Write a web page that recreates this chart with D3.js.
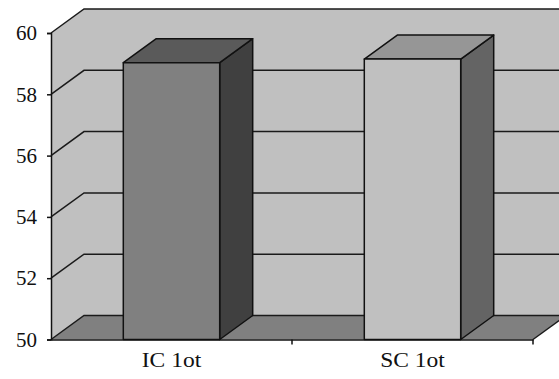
<!DOCTYPE html>
<html><head><meta charset="utf-8">
<script src="https://cdn.jsdelivr.net/npm/d3@7"></script>
<style>body{margin:0;background:#fff;}svg{display:block;}</style>
</head><body>
<script>
const categories = ["IC 1ot", "SC 1ot"];
const values = [59.03, 59.15];
const yTicks = [50, 52, 54, 56, 58, 60];

const W = 559, H = 379;
const dx = 33, dy = -24;
const FONT = "'Liberation Serif', 'Times New Roman', serif";
const frontColors = ["#808080", "#c0c0c0"];
const topColors = ["#5a5a5a", "#969696"];
const sideColors = ["#404040", "#646464"];

const svg = d3.select("body").append("svg").attr("width", W).attr("height", H);

const y = d3.scaleLinear().domain([50, 60]).range([339.5, 33]);
const x = d3.scaleBand().domain(categories).range([51, 533]).padding(0);

const x0 = x.range()[0], x1 = x.range()[1];
const yb = y(50), yt = y(60);
const pts = p => p.map(d => d.join(",")).join(" ");

// walls (fills only)
svg.append("polygon")
  .attr("points", pts([[x0, yt],[x0+dx, yt+dy],[x1+dx, yt+dy],[x1+dx, yb+dy],[x0+dx, yb+dy],[x0, yb]]))
  .attr("fill", "#c0c0c0");
svg.append("polygon")
  .attr("points", pts([[x0, yb],[x0+dx, yb+dy],[x1+dx, yb+dy],[x1, yb]]))
  .attr("fill", "#808080");

// gridlines and edges
const grid = svg.append("g").attr("stroke", "#1a1a1a").attr("stroke-width", 1.5).attr("fill", "none");
yTicks.forEach(t => {
  grid.append("polyline")
    .attr("points", pts([[x0, y(t)],[x0+dx, y(t)+dy],[x1+dx, y(t)+dy]]));
});
grid.append("line").attr("x1", x1).attr("y1", yb).attr("x2", x1+dx).attr("y2", yb+dy);

// bars
const bw = x.bandwidth() * 0.4;
categories.forEach((c, i) => {
  const v = values[i];
  const bx = x(c) + (x.bandwidth() - bw) / 2;
  const top = y(v);
  const g = svg.append("g").attr("stroke", "#111").attr("stroke-width", 1.5).attr("stroke-linejoin", "round");
  g.append("polygon")
    .attr("points", pts([[bx+bw, top],[bx+bw+dx, top+dy],[bx+bw+dx, yb+dy],[bx+bw, yb]]))
    .attr("fill", sideColors[i]);
  g.append("polygon")
    .attr("points", pts([[bx, top],[bx+dx, top+dy],[bx+bw+dx, top+dy],[bx+bw, top]]))
    .attr("fill", topColors[i]);
  g.append("rect")
    .attr("x", bx).attr("y", top).attr("width", bw).attr("height", yb - top)
    .attr("fill", frontColors[i]);
});

// y axis
const yAxis = svg.append("g").attr("transform", `translate(${x0},0)`)
  .call(d3.axisLeft(y).tickValues(yTicks).tickSize(4).tickPadding(10).tickFormat(d3.format("d")));
yAxis.attr("font-family", FONT).attr("font-size", 21);
yAxis.select(".domain").attr("stroke", "#111").attr("stroke-width", 1.5);
yAxis.selectAll(".tick line").attr("stroke", "#111").attr("stroke-width", 1.5);
yAxis.selectAll("text").attr("font-family", FONT).attr("font-size", 21).attr("fill", "#111");

// x axis
const xAxis = svg.append("g").attr("transform", `translate(0,${yb})`)
  .call(d3.axisBottom(x).tickSize(0).tickPadding(13));
xAxis.attr("font-family", FONT).attr("font-size", 21);
xAxis.select(".domain").attr("stroke", "#111").attr("stroke-width", 1.5);
xAxis.selectAll("text").attr("font-family", FONT).attr("font-size", 21).attr("fill", "#111")
  .attr("transform", "scale(1.12,1)");
categories.forEach(c => {
  xAxis.append("line")
    .attr("x1", x(c) + x.bandwidth()).attr("x2", x(c) + x.bandwidth())
    .attr("y1", 0).attr("y2", 5).attr("stroke", "#111").attr("stroke-width", 1.5);
});
</script>
</body></html>
